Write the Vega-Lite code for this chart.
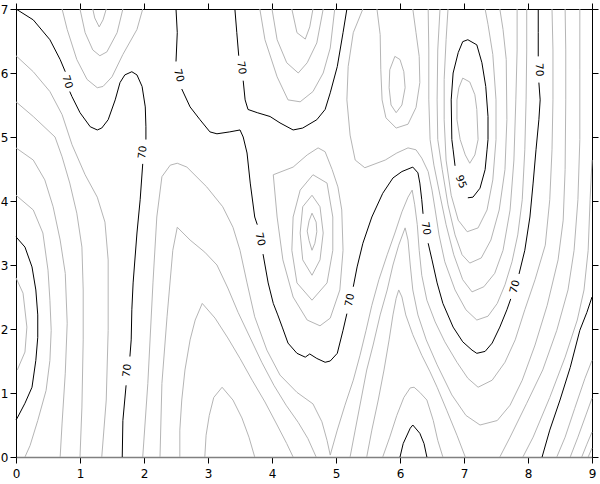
{
"$schema":"https://vega.github.io/schema/vega-lite/v6.json",
"width":576,"height":448,
"autosize":{"type":"none"},
"padding":{"left":16,"top":9,"right":8,"bottom":27},
"config":{"view":{"stroke":null},"axis":{"grid":false}},
"datasets":{
"grey":[
{"l":"g1","x":1.2,"y":7},{"l":"g1","x":1.23,"y":6.86},{"l":"g1","x":1.3,"y":6.72},{"l":"g1","x":1.36,"y":6.83},{"l":"g1","x":1.41,"y":7},
{"l":"g2","x":1.0,"y":7},{"l":"g2","x":1.08,"y":6.63},{"l":"g2","x":1.2,"y":6.36},{"l":"g2","x":1.31,"y":6.27},{"l":"g2","x":1.42,"y":6.33},{"l":"g2","x":1.58,"y":6.63},{"l":"g2","x":1.67,"y":7},
{"l":"g3","x":0.72,"y":7},{"l":"g3","x":0.8,"y":6.68},{"l":"g3","x":0.95,"y":6.21},{"l":"g3","x":1.11,"y":5.9},{"l":"g3","x":1.27,"y":5.77},{"l":"g3","x":1.36,"y":5.79},{"l":"g3","x":1.5,"y":5.94},{"l":"g3","x":1.67,"y":6.29},{"l":"g3","x":1.89,"y":6.68},{"l":"g3","x":1.98,"y":7},
{"l":"g4","x":0,"y":6.27},{"l":"g4","x":0.27,"y":6.02},{"l":"g4","x":0.53,"y":5.71},{"l":"g4","x":0.72,"y":5.35},{"l":"g4","x":0.875,"y":4.88},{"l":"g4","x":1.08,"y":4.41},{"l":"g4","x":1.27,"y":4.06},{"l":"g4","x":1.39,"y":3.67},{"l":"g4","x":1.44,"y":3.08},{"l":"g4","x":1.44,"y":1.98},{"l":"g4","x":1.41,"y":0.89},{"l":"g4","x":1.34,"y":0},
{"l":"g5","x":0,"y":5.55},{"l":"g5","x":0.27,"y":5.32},{"l":"g5","x":0.61,"y":5.0},{"l":"g5","x":0.72,"y":4.69},{"l":"g5","x":0.84,"y":4.28},{"l":"g5","x":0.95,"y":3.81},{"l":"g5","x":1.03,"y":3.28},{"l":"g5","x":1.05,"y":2.61},{"l":"g5","x":1.05,"y":1.83},{"l":"g5","x":1.03,"y":0.78},{"l":"g5","x":1.0,"y":0},
{"l":"g6","x":0,"y":4.83},{"l":"g6","x":0.27,"y":4.64},{"l":"g6","x":0.45,"y":4.33},{"l":"g6","x":0.58,"y":3.91},{"l":"g6","x":0.69,"y":3.39},{"l":"g6","x":0.77,"y":2.87},{"l":"g6","x":0.8,"y":2.09},{"l":"g6","x":0.77,"y":1.31},{"l":"g6","x":0.72,"y":0.53},{"l":"g6","x":0.69,"y":0},
{"l":"g7","x":0,"y":4.09},{"l":"g7","x":0.27,"y":3.86},{"l":"g7","x":0.42,"y":3.5},{"l":"g7","x":0.5,"y":2.92},{"l":"g7","x":0.53,"y":2.45},{"l":"g7","x":0.55,"y":1.98},{"l":"g7","x":0.53,"y":1.51},{"l":"g7","x":0.47,"y":1.04},{"l":"g7","x":0.34,"y":0.57},{"l":"g7","x":0.22,"y":0.18},{"l":"g7","x":0.14,"y":0},
{"l":"g8","x":0,"y":2.8},{"l":"g8","x":0.11,"y":2.56},{"l":"g8","x":0.17,"y":2.03},{"l":"g8","x":0.14,"y":1.64},{"l":"g8","x":0.02,"y":1.36},
{"l":"a1","x":1.98,"y":0},{"l":"a1","x":2.06,"y":1.15},{"l":"a1","x":2.14,"y":2.72},{"l":"a1","x":2.2,"y":3.75},{"l":"a1","x":2.28,"y":4.38},{"l":"a1","x":2.41,"y":4.56},{"l":"a1","x":2.52,"y":4.59},{"l":"a1","x":2.67,"y":4.53},{"l":"a1","x":2.98,"y":4.22},{"l":"a1","x":3.23,"y":3.91},{"l":"a1","x":3.39,"y":3.59},{"l":"a1","x":3.5,"y":3.23},{"l":"a1","x":3.61,"y":2.72},{"l":"a1","x":3.73,"y":2.19},{"l":"a1","x":3.92,"y":1.67},{"l":"a1","x":4.125,"y":1.28},{"l":"a1","x":4.39,"y":1.01},{"l":"a1","x":4.64,"y":0.83},{"l":"a1","x":4.78,"y":0.55},{"l":"a1","x":4.86,"y":0.26},{"l":"a1","x":4.91,"y":0.03},{"l":"a1","x":5.02,"y":0.42},{"l":"a1","x":5.14,"y":0.81},{"l":"a1","x":5.27,"y":1.2},{"l":"a1","x":5.375,"y":1.59},{"l":"a1","x":5.47,"y":1.98},{"l":"a1","x":5.56,"y":2.37},{"l":"a1","x":5.67,"y":2.77},{"l":"a1","x":5.8,"y":3.16},{"l":"a1","x":5.92,"y":3.5},{"l":"a1","x":6.03,"y":3.83},{"l":"a1","x":6.125,"y":4.06},{"l":"a1","x":6.19,"y":4.17},{"l":"a1","x":6.23,"y":3.94},{"l":"a1","x":6.27,"y":3.63},{"l":"a1","x":6.3,"y":3.23},{"l":"a1","x":6.34,"y":2.84},{"l":"a1","x":6.42,"y":2.45},{"l":"a1","x":6.55,"y":2.11},{"l":"a1","x":6.7,"y":1.8},{"l":"a1","x":6.89,"y":1.48},{"l":"a1","x":7.06,"y":1.23},{"l":"a1","x":7.22,"y":1.09},{"l":"a1","x":7.44,"y":1.2},{"l":"a1","x":7.64,"y":1.48},{"l":"a1","x":7.8,"y":1.83},{"l":"a1","x":7.95,"y":2.3},{"l":"a1","x":8.11,"y":2.77},{"l":"a1","x":8.27,"y":3.31},{"l":"a1","x":8.34,"y":4.02},{"l":"a1","x":8.375,"y":4.8},{"l":"a1","x":8.39,"y":5.58},{"l":"a1","x":8.39,"y":6.36},{"l":"a1","x":8.375,"y":7},
{"l":"a2","x":2.25,"y":0},{"l":"a2","x":2.28,"y":1.15},{"l":"a2","x":2.36,"y":2.19},{"l":"a2","x":2.45,"y":3.23},{"l":"a2","x":2.52,"y":3.59},{"l":"a2","x":2.72,"y":3.39},{"l":"a2","x":2.95,"y":3.2},{"l":"a2","x":3.14,"y":3.0},{"l":"a2","x":3.31,"y":2.64},{"l":"a2","x":3.47,"y":2.26},{"l":"a2","x":3.66,"y":1.86},{"l":"a2","x":3.84,"y":1.48},{"l":"a2","x":4.03,"y":1.12},{"l":"a2","x":4.22,"y":0.81},{"l":"a2","x":4.41,"y":0.54},{"l":"a2","x":4.56,"y":0.29},{"l":"a2","x":4.69,"y":0},
{"l":"a3","x":2.56,"y":0},{"l":"a3","x":2.56,"y":0.42},{"l":"a3","x":2.59,"y":0.89},{"l":"a3","x":2.64,"y":1.36},{"l":"a3","x":2.72,"y":1.83},{"l":"a3","x":2.8,"y":2.14},{"l":"a3","x":2.91,"y":2.4},{"l":"a3","x":3.11,"y":2.17},{"l":"a3","x":3.31,"y":1.86},{"l":"a3","x":3.5,"y":1.54},{"l":"a3","x":3.69,"y":1.2},{"l":"a3","x":3.89,"y":0.86},{"l":"a3","x":4.08,"y":0.5},{"l":"a3","x":4.23,"y":0.21},{"l":"a3","x":4.33,"y":0},
{"l":"a4","x":2.95,"y":0},{"l":"a4","x":2.97,"y":0.34},{"l":"a4","x":3.02,"y":0.65},{"l":"a4","x":3.09,"y":0.93},{"l":"a4","x":3.22,"y":1.09},{"l":"a4","x":3.39,"y":0.89},{"l":"a4","x":3.53,"y":0.61},{"l":"a4","x":3.64,"y":0.31},{"l":"a4","x":3.73,"y":0},
{"l":"u65","x":3.81,"y":7},{"l":"u65","x":3.89,"y":6.52},{"l":"u65","x":4.08,"y":5.94},{"l":"u65","x":4.25,"y":5.58},{"l":"u65","x":4.44,"y":5.55},{"l":"u65","x":4.64,"y":5.71},{"l":"u65","x":4.8,"y":6.0},{"l":"u65","x":4.91,"y":6.39},{"l":"u65","x":4.98,"y":7},
{"l":"u60","x":4.0,"y":7},{"l":"u60","x":4.08,"y":6.52},{"l":"u60","x":4.23,"y":6.16},{"l":"u60","x":4.41,"y":6.0},{"l":"u60","x":4.55,"y":6.16},{"l":"u60","x":4.7,"y":6.47},{"l":"u60","x":4.8,"y":7},
{"l":"u55","x":4.31,"y":7},{"l":"u55","x":4.39,"y":6.63},{"l":"u55","x":4.52,"y":6.53},{"l":"u55","x":4.59,"y":6.72},{"l":"u55","x":4.64,"y":7},
{"l":"lo75","x":4.02,"y":4.41},{"l":"lo75","x":4.33,"y":4.53},{"l":"lo75","x":4.55,"y":4.72},{"l":"lo75","x":4.72,"y":4.83},{"l":"lo75","x":4.83,"y":4.77},{"l":"lo75","x":4.94,"y":4.49},{"l":"lo75","x":5.03,"y":4.22},{"l":"lo75","x":5.09,"y":3.86},{"l":"lo75","x":5.11,"y":3.23},{"l":"lo75","x":5.06,"y":2.61},{"l":"lo75","x":4.91,"y":2.17},{"l":"lo75","x":4.75,"y":2.05},{"l":"lo75","x":4.55,"y":2.14},{"l":"lo75","x":4.33,"y":2.5},{"l":"lo75","x":4.17,"y":3.08},{"l":"lo75","x":4.08,"y":3.75},{"l":"lo75","x":4.02,"y":4.41},
{"l":"lo80","x":4.64,"y":4.41},{"l":"lo80","x":4.86,"y":4.28},{"l":"lo80","x":4.95,"y":3.75},{"l":"lo80","x":4.95,"y":3.23},{"l":"lo80","x":4.86,"y":2.72},{"l":"lo80","x":4.625,"y":2.45},{"l":"lo80","x":4.39,"y":2.72},{"l":"lo80","x":4.31,"y":3.23},{"l":"lo80","x":4.33,"y":3.75},{"l":"lo80","x":4.44,"y":4.17},{"l":"lo80","x":4.64,"y":4.41},
{"l":"lo85","x":4.625,"y":4.09},{"l":"lo85","x":4.75,"y":3.91},{"l":"lo85","x":4.8,"y":3.5},{"l":"lo85","x":4.75,"y":3.08},{"l":"lo85","x":4.625,"y":2.84},{"l":"lo85","x":4.48,"y":3.08},{"l":"lo85","x":4.44,"y":3.5},{"l":"lo85","x":4.48,"y":3.91},{"l":"lo85","x":4.625,"y":4.09},
{"l":"lo90","x":4.625,"y":3.81},{"l":"lo90","x":4.69,"y":3.67},{"l":"lo90","x":4.7,"y":3.52},{"l":"lo90","x":4.67,"y":3.34},{"l":"lo90","x":4.625,"y":3.23},{"l":"lo90","x":4.58,"y":3.38},{"l":"lo90","x":4.55,"y":3.53},{"l":"lo90","x":4.58,"y":3.69},{"l":"lo90","x":4.625,"y":3.81},
{"l":"lens","x":5.92,"y":6.26},{"l":"lens","x":6.0,"y":6.21},{"l":"lens","x":6.06,"y":6.02},{"l":"lens","x":6.08,"y":5.77},{"l":"lens","x":6.03,"y":5.5},{"l":"lens","x":5.94,"y":5.38},{"l":"lens","x":5.86,"y":5.5},{"l":"lens","x":5.83,"y":5.77},{"l":"lens","x":5.84,"y":6.05},{"l":"lens","x":5.92,"y":6.26},
{"l":"u80","x":5.64,"y":7},{"l":"u80","x":5.69,"y":6.6},{"l":"u80","x":5.7,"y":6.05},{"l":"u80","x":5.72,"y":5.58},{"l":"u80","x":5.78,"y":5.3},{"l":"u80","x":5.94,"y":5.14},{"l":"u80","x":6.125,"y":5.2},{"l":"u80","x":6.25,"y":5.46},{"l":"u80","x":6.31,"y":5.85},{"l":"u80","x":6.3,"y":6.26},{"l":"u80","x":6.25,"y":6.63},{"l":"u80","x":6.2,"y":7},
{"l":"e75","x":5.42,"y":7},{"l":"e75","x":5.27,"y":6.63},{"l":"e75","x":5.19,"y":6.1},{"l":"e75","x":5.17,"y":5.58},{"l":"e75","x":5.22,"y":5.03},{"l":"e75","x":5.3,"y":4.64},{"l":"e75","x":5.45,"y":4.52},{"l":"e75","x":5.77,"y":4.64},{"l":"e75","x":5.95,"y":4.75},{"l":"e75","x":6.125,"y":4.83},{"l":"e75","x":6.25,"y":4.8},{"l":"e75","x":6.34,"y":4.67},{"l":"e75","x":6.44,"y":4.46},{"l":"e75","x":6.5,"y":4.17},{"l":"e75","x":6.55,"y":3.86},{"l":"e75","x":6.61,"y":3.47},{"l":"e75","x":6.7,"y":3.05},{"l":"e75","x":6.86,"y":2.61},{"l":"e75","x":7.03,"y":2.3},{"l":"e75","x":7.2,"y":2.14},{"l":"e75","x":7.375,"y":2.2},{"l":"e75","x":7.52,"y":2.4},{"l":"e75","x":7.64,"y":2.69},{"l":"e75","x":7.75,"y":3.05},{"l":"e75","x":7.84,"y":3.47},{"l":"e75","x":7.91,"y":4.02},{"l":"e75","x":7.95,"y":4.8},{"l":"e75","x":7.97,"y":5.58},{"l":"e75","x":7.98,"y":6.36},{"l":"e75","x":7.98,"y":7},
{"l":"d80","x":6.44,"y":7},{"l":"d80","x":6.45,"y":6.36},{"l":"d80","x":6.45,"y":5.58},{"l":"d80","x":6.47,"y":4.96},{"l":"d80","x":6.53,"y":4.56},{"l":"d80","x":6.625,"y":4.09},{"l":"d80","x":6.72,"y":3.63},{"l":"d80","x":6.84,"y":3.16},{"l":"d80","x":6.98,"y":2.77},{"l":"d80","x":7.125,"y":2.58},{"l":"d80","x":7.31,"y":2.66},{"l":"d80","x":7.48,"y":2.87},{"l":"d80","x":7.61,"y":3.23},{"l":"d80","x":7.72,"y":3.86},{"l":"d80","x":7.78,"y":4.64},{"l":"d80","x":7.81,"y":5.58},{"l":"d80","x":7.83,"y":6.36},{"l":"d80","x":7.83,"y":7},
{"l":"d85","x":6.625,"y":7},{"l":"d85","x":6.59,"y":6.36},{"l":"d85","x":6.58,"y":5.58},{"l":"d85","x":6.59,"y":4.96},{"l":"d85","x":6.66,"y":4.49},{"l":"d85","x":6.75,"y":3.94},{"l":"d85","x":6.86,"y":3.47},{"l":"d85","x":6.97,"y":3.16},{"l":"d85","x":7.09,"y":3.03},{"l":"d85","x":7.27,"y":3.11},{"l":"d85","x":7.42,"y":3.39},{"l":"d85","x":7.55,"y":3.86},{"l":"d85","x":7.64,"y":4.49},{"l":"d85","x":7.67,"y":5.27},{"l":"d85","x":7.66,"y":6.21},{"l":"d85","x":7.61,"y":6.68},{"l":"d85","x":7.56,"y":7},
{"l":"d90","x":6.75,"y":7},{"l":"d90","x":6.72,"y":6.52},{"l":"d90","x":6.69,"y":5.9},{"l":"d90","x":6.69,"y":5.27},{"l":"d90","x":6.72,"y":4.64},{"l":"d90","x":6.8,"y":4.09},{"l":"d90","x":6.91,"y":3.7},{"l":"d90","x":7.05,"y":3.52},{"l":"d90","x":7.22,"y":3.58},{"l":"d90","x":7.36,"y":3.86},{"l":"d90","x":7.45,"y":4.33},{"l":"d90","x":7.5,"y":4.96},{"l":"d90","x":7.5,"y":5.58},{"l":"d90","x":7.45,"y":6.29},{"l":"d90","x":7.375,"y":6.76},{"l":"d90","x":7.33,"y":7},
{"l":"d100","x":6.98,"y":5.92},{"l":"d100","x":7.09,"y":5.86},{"l":"d100","x":7.17,"y":5.66},{"l":"d100","x":7.2,"y":5.43},{"l":"d100","x":7.22,"y":4.96},{"l":"d100","x":7.17,"y":4.72},{"l":"d100","x":7.09,"y":4.59},{"l":"d100","x":7.02,"y":4.72},{"l":"d100","x":6.94,"y":4.96},{"l":"d100","x":6.89,"y":5.27},{"l":"d100","x":6.89,"y":5.58},{"l":"d100","x":6.92,"y":5.77},{"l":"d100","x":6.98,"y":5.92},
{"l":"l60","x":5.22,"y":0},{"l":"l60","x":5.3,"y":0.42},{"l":"l60","x":5.39,"y":0.89},{"l":"l60","x":5.48,"y":1.36},{"l":"l60","x":5.58,"y":1.75},{"l":"l60","x":5.69,"y":2.22},{"l":"l60","x":5.8,"y":2.61},{"l":"l60","x":5.89,"y":3.0},{"l":"l60","x":5.98,"y":3.31},{"l":"l60","x":6.08,"y":3.58},{"l":"l60","x":6.125,"y":3.39},{"l":"l60","x":6.16,"y":3.0},{"l":"l60","x":6.2,"y":2.61},{"l":"l60","x":6.28,"y":2.22},{"l":"l60","x":6.41,"y":1.83},{"l":"l60","x":6.58,"y":1.44},{"l":"l60","x":6.81,"y":0.97},{"l":"l60","x":7.03,"y":0.65},{"l":"l60","x":7.25,"y":0.5},{"l":"l60","x":7.52,"y":0.57},{"l":"l60","x":7.72,"y":0.81},{"l":"l60","x":7.91,"y":1.2},{"l":"l60","x":8.11,"y":1.75},{"l":"l60","x":8.3,"y":2.37},{"l":"l60","x":8.47,"y":3.08},{"l":"l60","x":8.55,"y":3.7},{"l":"l60","x":8.58,"y":4.49},{"l":"l60","x":8.59,"y":5.58},{"l":"l60","x":8.59,"y":6.36},{"l":"l60","x":8.58,"y":7},
{"l":"l55","x":5.48,"y":0},{"l":"l55","x":5.56,"y":0.42},{"l":"l55","x":5.66,"y":0.89},{"l":"l55","x":5.75,"y":1.36},{"l":"l55","x":5.83,"y":1.83},{"l":"l55","x":5.89,"y":2.22},{"l":"l55","x":5.94,"y":2.48},{"l":"l55","x":5.98,"y":2.61},{"l":"l55","x":6.03,"y":2.5},{"l":"l55","x":6.09,"y":2.22},{"l":"l55","x":6.2,"y":1.91},{"l":"l55","x":6.34,"y":1.59},{"l":"l55","x":6.47,"y":1.33},{"l":"l55","x":6.58,"y":1.09},{"l":"l55","x":6.73,"y":0.73},{"l":"l55","x":6.89,"y":0.34},{"l":"l55","x":7.02,"y":0},
{"l":"h50","x":5.73,"y":0},{"l":"h50","x":5.84,"y":0.31},{"l":"h50","x":5.95,"y":0.65},{"l":"h50","x":6.06,"y":0.93},{"l":"h50","x":6.16,"y":1.08},{"l":"h50","x":6.22,"y":1.09},{"l":"h50","x":6.31,"y":1.01},{"l":"h50","x":6.42,"y":0.89},{"l":"h50","x":6.52,"y":0.57},{"l":"h50","x":6.59,"y":0.26},{"l":"h50","x":6.67,"y":0},
{"l":"r55","x":7.56,"y":0},{"l":"r55","x":7.72,"y":0.31},{"l":"r55","x":7.98,"y":0.84},{"l":"r55","x":8.23,"y":1.36},{"l":"r55","x":8.45,"y":1.98},{"l":"r55","x":8.625,"y":2.61},{"l":"r55","x":8.72,"y":3.23},{"l":"r55","x":8.78,"y":4.02},{"l":"r55","x":8.81,"y":4.96},{"l":"r55","x":8.81,"y":6.05},{"l":"r55","x":8.81,"y":7},
{"l":"r50","x":7.92,"y":0},{"l":"r50","x":8.08,"y":0.31},{"l":"r50","x":8.34,"y":0.93},{"l":"r50","x":8.58,"y":1.56},{"l":"r50","x":8.77,"y":2.14},{"l":"r50","x":8.875,"y":2.61},{"l":"r50","x":8.94,"y":3.23},{"l":"r50","x":8.97,"y":4.02},{"l":"r50","x":9.0,"y":4.64},
{"l":"c40","x":8.45,"y":0},{"l":"c40","x":8.58,"y":0.31},{"l":"c40","x":8.73,"y":0.76},{"l":"c40","x":8.89,"y":1.23},{"l":"c40","x":9.0,"y":1.51},
{"l":"c35","x":8.66,"y":0},{"l":"c35","x":8.78,"y":0.31},{"l":"c35","x":8.91,"y":0.67},{"l":"c35","x":9.0,"y":0.92},
{"l":"c30","x":8.84,"y":0},{"l":"c30","x":8.92,"y":0.2},{"l":"c30","x":9.0,"y":0.39},
{"l":"c25","x":8.94,"y":0},{"l":"c25","x":9.0,"y":0.14}
],
"black":[
{"l":"k1a","x":0,"y":7},{"l":"k1a","x":0.27,"y":6.83},{"l":"k1a","x":0.53,"y":6.52},{"l":"k1a","x":0.69,"y":6.21},{"l":"k1a","x":0.77,"y":6.02},
{"l":"k1b","x":0.84,"y":5.71},{"l":"k1b","x":0.875,"y":5.63},{"l":"k1b","x":1.0,"y":5.38},{"l":"k1b","x":1.16,"y":5.16},{"l":"k1b","x":1.27,"y":5.11},{"l":"k1b","x":1.34,"y":5.14},{"l":"k1b","x":1.44,"y":5.27},{"l":"k1b","x":1.55,"y":5.58},{"l":"k1b","x":1.625,"y":5.85},{"l":"k1b","x":1.7,"y":5.97},{"l":"k1b","x":1.81,"y":6.02},{"l":"k1b","x":1.89,"y":5.97},{"l":"k1b","x":1.97,"y":5.79},{"l":"k1b","x":2.02,"y":5.47},{"l":"k1b","x":2.03,"y":5.16},{"l":"k1b","x":2.03,"y":4.96},
{"l":"k1c","x":1.98,"y":4.58},{"l":"k1c","x":1.94,"y":4.02},{"l":"k1c","x":1.89,"y":3.5},{"l":"k1c","x":1.83,"y":2.72},{"l":"k1c","x":1.81,"y":2.3},{"l":"k1c","x":1.8,"y":1.83},{"l":"k1c","x":1.78,"y":1.57},
{"l":"k1d","x":1.72,"y":1.12},{"l":"k1d","x":1.67,"y":0.57},{"l":"k1d","x":1.66,"y":0},
{"l":"k2a","x":3.42,"y":7},{"l":"k2a","x":3.45,"y":6.63},{"l":"k2a","x":3.48,"y":6.27},
{"l":"k2b","x":3.55,"y":5.88},{"l":"k2b","x":3.58,"y":5.58},{"l":"k2b","x":3.625,"y":5.43},{"l":"k2b","x":3.77,"y":5.38},{"l":"k2b","x":3.97,"y":5.32},{"l":"k2b","x":4.125,"y":5.22},{"l":"k2b","x":4.33,"y":5.11},{"l":"k2b","x":4.48,"y":5.14},{"l":"k2b","x":4.7,"y":5.27},{"l":"k2b","x":4.83,"y":5.43},{"l":"k2b","x":4.91,"y":5.69},{"l":"k2b","x":5.02,"y":6.1},{"l":"k2b","x":5.11,"y":6.63},{"l":"k2b","x":5.17,"y":7},
{"l":"k3a","x":2.5,"y":7},{"l":"k3a","x":2.52,"y":6.63},{"l":"k3a","x":2.5,"y":6.18},
{"l":"k3b","x":2.59,"y":5.75},{"l":"k3b","x":2.72,"y":5.47},{"l":"k3b","x":2.875,"y":5.27},{"l":"k3b","x":3.03,"y":5.08},{"l":"k3b","x":3.14,"y":5.05},{"l":"k3b","x":3.34,"y":5.08},{"l":"k3b","x":3.5,"y":5.11},{"l":"k3b","x":3.55,"y":5.0},{"l":"k3b","x":3.61,"y":4.75},{"l":"k3b","x":3.66,"y":4.28},{"l":"k3b","x":3.73,"y":3.75},{"l":"k3b","x":3.77,"y":3.63},
{"l":"k3c","x":3.86,"y":3.17},{"l":"k3c","x":3.94,"y":2.72},{"l":"k3c","x":4.02,"y":2.4},{"l":"k3c","x":4.09,"y":2.22},{"l":"k3c","x":4.16,"y":2.03},{"l":"k3c","x":4.25,"y":1.78},{"l":"k3c","x":4.39,"y":1.62},{"l":"k3c","x":4.52,"y":1.56},{"l":"k3c","x":4.59,"y":1.61},{"l":"k3c","x":4.7,"y":1.54},{"l":"k3c","x":4.83,"y":1.48},{"l":"k3c","x":4.91,"y":1.5},{"l":"k3c","x":5.02,"y":1.62},{"l":"k3c","x":5.11,"y":1.98},{"l":"k3c","x":5.17,"y":2.24},
{"l":"k3d","x":5.27,"y":2.66},{"l":"k3d","x":5.33,"y":2.97},{"l":"k3d","x":5.42,"y":3.34},{"l":"k3d","x":5.56,"y":3.75},{"l":"k3d","x":5.73,"y":4.12},{"l":"k3d","x":5.89,"y":4.36},{"l":"k3d","x":6.03,"y":4.46},{"l":"k3d","x":6.2,"y":4.53},{"l":"k3d","x":6.28,"y":4.44},{"l":"k3d","x":6.31,"y":4.28},{"l":"k3d","x":6.34,"y":4.02},{"l":"k3d","x":6.36,"y":3.8},
{"l":"k3e","x":6.44,"y":3.34},{"l":"k3e","x":6.5,"y":3.08},{"l":"k3e","x":6.58,"y":2.72},{"l":"k3e","x":6.67,"y":2.4},{"l":"k3e","x":6.83,"y":2.03},{"l":"k3e","x":6.98,"y":1.8},{"l":"k3e","x":7.125,"y":1.67},{"l":"k3e","x":7.2,"y":1.62},{"l":"k3e","x":7.33,"y":1.65},{"l":"k3e","x":7.44,"y":1.78},{"l":"k3e","x":7.56,"y":2.03},{"l":"k3e","x":7.67,"y":2.3},{"l":"k3e","x":7.73,"y":2.47},
{"l":"k3f","x":7.86,"y":2.86},{"l":"k3f","x":7.95,"y":3.23},{"l":"k3f","x":8.03,"y":3.75},{"l":"k3f","x":8.08,"y":4.28},{"l":"k3f","x":8.125,"y":4.8},{"l":"k3f","x":8.17,"y":5.27},{"l":"k3f","x":8.19,"y":5.58},{"l":"k3f","x":8.17,"y":5.85},
{"l":"k3g","x":8.16,"y":6.26},{"l":"k3g","x":8.16,"y":6.63},{"l":"k3g","x":8.16,"y":7},
{"l":"k4","x":6.86,"y":4.55},{"l":"k4","x":6.83,"y":4.8},{"l":"k4","x":6.81,"y":4.96},{"l":"k4","x":6.8,"y":5.58},{"l":"k4","x":6.83,"y":6.0},{"l":"k4","x":6.91,"y":6.32},{"l":"k4","x":6.98,"y":6.49},{"l":"k4","x":7.06,"y":6.52},{"l":"k4","x":7.2,"y":6.44},{"l":"k4","x":7.28,"y":6.16},{"l":"k4","x":7.34,"y":5.79},{"l":"k4","x":7.375,"y":5.32},{"l":"k4","x":7.375,"y":4.96},{"l":"k4","x":7.36,"y":4.8},{"l":"k4","x":7.33,"y":4.49},{"l":"k4","x":7.25,"y":4.2},{"l":"k4","x":7.14,"y":4.06},{"l":"k4","x":7.06,"y":4.05},
{"l":"k5","x":0,"y":3.44},{"l":"k5","x":0.14,"y":3.28},{"l":"k5","x":0.25,"y":2.97},{"l":"k5","x":0.31,"y":2.61},{"l":"k5","x":0.34,"y":2.22},{"l":"k5","x":0.34,"y":1.87},{"l":"k5","x":0.31,"y":1.51},{"l":"k5","x":0.25,"y":1.09},{"l":"k5","x":0.14,"y":0.84},{"l":"k5","x":0.02,"y":0.61},{"l":"k5","x":0,"y":0.58},
{"l":"k6","x":6.0,"y":0},{"l":"k6","x":6.05,"y":0.21},{"l":"k6","x":6.16,"y":0.45},{"l":"k6","x":6.2,"y":0.5},{"l":"k6","x":6.31,"y":0.37},{"l":"k6","x":6.375,"y":0.21},{"l":"k6","x":6.42,"y":0},
{"l":"k7","x":8.22,"y":0},{"l":"k7","x":8.34,"y":0.42},{"l":"k7","x":8.5,"y":0.89},{"l":"k7","x":8.66,"y":1.4},{"l":"k7","x":8.81,"y":1.98},{"l":"k7","x":8.92,"y":2.26},{"l":"k7","x":9.0,"y":2.5}
]
},
"layer":[
{"data":{"name":"grey"},
 "mark":{"type":"line","color":"#b5b5b5","strokeWidth":1,"interpolate":"linear"},
 "encoding":{
  "x":{"field":"x","type":"quantitative","scale":{"domain":[0,9],"nice":false,"zero":false},
       "axis":{"orient":"bottom","values":[0,1,2,3,4,5,6,7,8,9],"format":"d","title":null,"grid":false,"domainColor":"#808080","domainWidth":1.5,"tickColor":"black","tickSize":6,"tickWidth":1,"labelFont":"DejaVu Sans","labelFontSize":12,"labelColor":"black","labelPadding":5,"labelFlush":false,"labelOverlap":false}},
  "y":{"field":"y","type":"quantitative","scale":{"domain":[0,7],"nice":false,"zero":false},
       "axis":{"orient":"left","values":[0,1,2,3,4,5,6,7],"format":"d","title":null,"grid":false,"domainColor":"black","domainWidth":1,"tickColor":"black","tickSize":6,"tickWidth":1,"labelFont":"DejaVu Sans","labelFontSize":12,"labelColor":"black","labelPadding":2,"labelFlush":false,"labelOverlap":false}},
  "detail":{"field":"l","type":"nominal"},
  "order":{"value":null}
 }},
{"data":{"name":"black"},
 "mark":{"type":"line","color":"black","strokeWidth":1,"interpolate":"linear"},
 "encoding":{
  "x":{"field":"x","type":"quantitative","scale":{"domain":[0,9],"nice":false,"zero":false},
       "axis":{"orient":"top","values":[0,1,2,3,4,5,6,7,8,9],"labels":false,"title":null,"grid":false,"domainColor":"black","domainWidth":1,"tickColor":"black","tickSize":6,"tickWidth":1}},
  "y":{"field":"y","type":"quantitative","scale":{"domain":[0,7],"nice":false,"zero":false},
       "axis":{"orient":"right","values":[0,1,2,3,4,5,6,7],"labels":false,"title":null,"grid":false,"domainColor":"black","domainWidth":1,"tickColor":"black","tickSize":6,"tickWidth":1}},
  "detail":{"field":"l","type":"nominal"},
  "order":{"value":null}
 }},
{"data":{"values":[{"x":0.8,"y":5.86,"t":"70"}]},"mark":{"type":"text","angle":72,"font":"DejaVu Sans","fontSize":10.5,"color":"black","align":"center","baseline":"middle"},
 "encoding":{"x":{"field":"x","type":"quantitative","scale":{"domain":[0,9],"nice":false,"zero":false},"axis":null},"y":{"field":"y","type":"quantitative","scale":{"domain":[0,7],"nice":false,"zero":false},"axis":null},"text":{"field":"t"}}},
{"data":{"values":[{"x":1.98,"y":4.76,"t":"70"}]},"mark":{"type":"text","angle":-83,"font":"DejaVu Sans","fontSize":10.5,"color":"black","align":"center","baseline":"middle"},
 "encoding":{"x":{"field":"x","type":"quantitative","scale":{"domain":[0,9],"nice":false,"zero":false},"axis":null},"y":{"field":"y","type":"quantitative","scale":{"domain":[0,7],"nice":false,"zero":false},"axis":null},"text":{"field":"t"}}},
{"data":{"values":[{"x":1.74,"y":1.35,"t":"70"}]},"mark":{"type":"text","angle":-82,"font":"DejaVu Sans","fontSize":10.5,"color":"black","align":"center","baseline":"middle"},
 "encoding":{"x":{"field":"x","type":"quantitative","scale":{"domain":[0,9],"nice":false,"zero":false},"axis":null},"y":{"field":"y","type":"quantitative","scale":{"domain":[0,7],"nice":false,"zero":false},"axis":null},"text":{"field":"t"}}},
{"data":{"values":[{"x":2.54,"y":5.96,"t":"70"}]},"mark":{"type":"text","angle":75,"font":"DejaVu Sans","fontSize":10.5,"color":"black","align":"center","baseline":"middle"},
 "encoding":{"x":{"field":"x","type":"quantitative","scale":{"domain":[0,9],"nice":false,"zero":false},"axis":null},"y":{"field":"y","type":"quantitative","scale":{"domain":[0,7],"nice":false,"zero":false},"axis":null},"text":{"field":"t"}}},
{"data":{"values":[{"x":3.52,"y":6.08,"t":"70"}]},"mark":{"type":"text","angle":81,"font":"DejaVu Sans","fontSize":10.5,"color":"black","align":"center","baseline":"middle"},
 "encoding":{"x":{"field":"x","type":"quantitative","scale":{"domain":[0,9],"nice":false,"zero":false},"axis":null},"y":{"field":"y","type":"quantitative","scale":{"domain":[0,7],"nice":false,"zero":false},"axis":null},"text":{"field":"t"}}},
{"data":{"values":[{"x":3.81,"y":3.4,"t":"70"}]},"mark":{"type":"text","angle":77,"font":"DejaVu Sans","fontSize":10.5,"color":"black","align":"center","baseline":"middle"},
 "encoding":{"x":{"field":"x","type":"quantitative","scale":{"domain":[0,9],"nice":false,"zero":false},"axis":null},"y":{"field":"y","type":"quantitative","scale":{"domain":[0,7],"nice":false,"zero":false},"axis":null},"text":{"field":"t"}}},
{"data":{"values":[{"x":5.22,"y":2.45,"t":"70"}]},"mark":{"type":"text","angle":-79,"font":"DejaVu Sans","fontSize":10.5,"color":"black","align":"center","baseline":"middle"},
 "encoding":{"x":{"field":"x","type":"quantitative","scale":{"domain":[0,9],"nice":false,"zero":false},"axis":null},"y":{"field":"y","type":"quantitative","scale":{"domain":[0,7],"nice":false,"zero":false},"axis":null},"text":{"field":"t"}}},
{"data":{"values":[{"x":6.4,"y":3.57,"t":"70"}]},"mark":{"type":"text","angle":80,"font":"DejaVu Sans","fontSize":10.5,"color":"black","align":"center","baseline":"middle"},
 "encoding":{"x":{"field":"x","type":"quantitative","scale":{"domain":[0,9],"nice":false,"zero":false},"axis":null},"y":{"field":"y","type":"quantitative","scale":{"domain":[0,7],"nice":false,"zero":false},"axis":null},"text":{"field":"t"}}},
{"data":{"values":[{"x":7.8,"y":2.66,"t":"70"}]},"mark":{"type":"text","angle":-75,"font":"DejaVu Sans","fontSize":10.5,"color":"black","align":"center","baseline":"middle"},
 "encoding":{"x":{"field":"x","type":"quantitative","scale":{"domain":[0,9],"nice":false,"zero":false},"axis":null},"y":{"field":"y","type":"quantitative","scale":{"domain":[0,7],"nice":false,"zero":false},"axis":null},"text":{"field":"t"}}},
{"data":{"values":[{"x":8.17,"y":6.05,"t":"70"}]},"mark":{"type":"text","angle":88,"font":"DejaVu Sans","fontSize":10.5,"color":"black","align":"center","baseline":"middle"},
 "encoding":{"x":{"field":"x","type":"quantitative","scale":{"domain":[0,9],"nice":false,"zero":false},"axis":null},"y":{"field":"y","type":"quantitative","scale":{"domain":[0,7],"nice":false,"zero":false},"axis":null},"text":{"field":"t"}}},
{"data":{"values":[{"x":6.95,"y":4.3,"t":"95"}]},"mark":{"type":"text","angle":68,"font":"DejaVu Sans","fontSize":10.5,"color":"black","align":"center","baseline":"middle"},
 "encoding":{"x":{"field":"x","type":"quantitative","scale":{"domain":[0,9],"nice":false,"zero":false},"axis":null},"y":{"field":"y","type":"quantitative","scale":{"domain":[0,7],"nice":false,"zero":false},"axis":null},"text":{"field":"t"}}}
],
"resolve":{"axis":{"x":"independent","y":"independent"}}
}
